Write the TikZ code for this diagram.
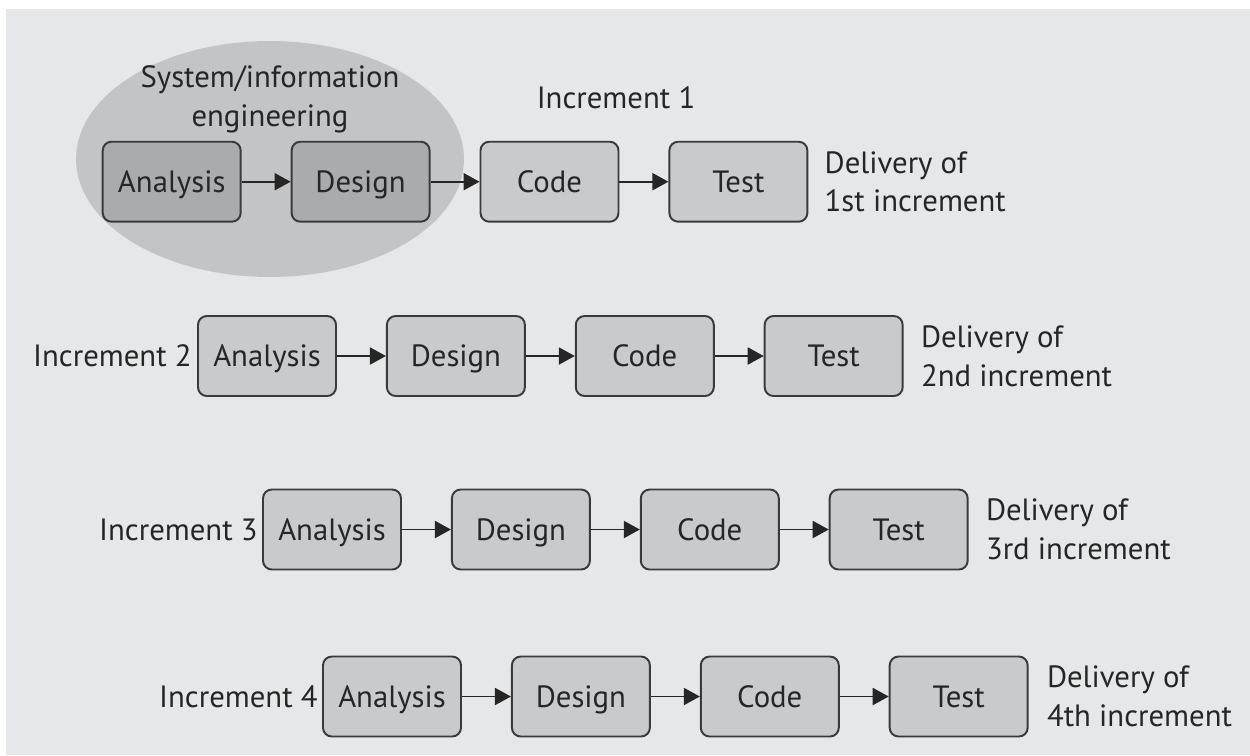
\documentclass[tikz,border=0pt]{standalone}
\usepackage{fontspec}
\setmainfont{PT Sans}
\usetikzlibrary{positioning, arrows.meta, shapes.geometric}
\definecolor{panel}{HTML}{E6E7E8}
\definecolor{blob}{HTML}{C3C4C6}
\definecolor{boxgray}{HTML}{C9CACC}
\definecolor{boxdark}{HTML}{A9ABAD}
\definecolor{edge}{HTML}{3A3A3A}
\definecolor{ink}{HTML}{262626}

\begin{document}
\begin{tikzpicture}[x=0.02cm, y=-0.02cm, >={Triangle[length=0.32cm, width=0.34cm]}, node distance=0.98cm,
    font=\fontsize{17.5}{22}\selectfont,
    phase/.style={draw=edge, fill=boxgray, rounded corners=5pt, line width=1.1pt, minimum width=2.76cm, minimum height=1.6cm, inner sep=0pt, text height=12.3pt, text depth=0pt, text=ink},
    early/.style={phase, fill=boxdark},
    tag/.style={inner sep=0pt, text=ink, align=left},
    flow/.style={->, line width=1.1pt, draw=ink}]
  \useasboundingbox (0,0) rectangle (1250,755);
  \fill[panel] (6,9) rectangle (1250,755);
  % system/information engineering
  \node[ellipse, fill=blob, minimum width=7.76cm, minimum height=4.72cm, inner sep=0pt] (sie) at (270,159) {};
  \node[tag, align=center] (sietext) at (270,99) {System/information\\engineering};
  % increment 1
  \node[early] (a1) at (171.7,181.7) {Analysis};
  \node[early, right=of a1] (d1) {Design};
  \node[phase, right=of d1] (c1) {Code};
  \node[phase, right=of c1] (t1) {Test};
  \node[tag] (inc1) at (616,98) {Increment 1};
  \node[tag, right=0.32cm of t1] (del1) {Delivery of\\1st increment};
  \draw[flow] (a1) -- (d1);
  \draw[flow] (d1) -- (c1);
  \draw[flow] (c1) -- (t1);
  % increment 2
  \node[phase] (a2) at (267,356) {Analysis};
  \node[phase, right=of a2] (d2) {Design};
  \node[phase, right=of d2] (c2) {Code};
  \node[phase, right=of c2] (t2) {Test};
  \node[tag, left=0.1cm of a2] (inc2) {Increment 2};
  \node[tag, right=0.34cm of t2] (del2) {Delivery of\\2nd increment};
  \draw[flow] (a2) -- (d2);
  \draw[flow] (d2) -- (c2);
  \draw[flow] (c2) -- (t2);
  % increment 3
  \node[phase] (a3) at (332,529.5) {Analysis};
  \node[phase, right=of a3] (d3) {Design};
  \node[phase, right=of d3] (c3) {Code};
  \node[phase, right=of c3] (t3) {Test};
  \node[tag, left=0.08cm of a3] (inc3) {Increment 3};
  \node[tag, right=0.34cm of t3] (del3) {Delivery of\\3rd increment};
  \draw[flow] (a3) -- (d3);
  \draw[flow] (d3) -- (c3);
  \draw[flow] (c3) -- (t3);
  % increment 4
  \node[phase] (a4) at (392,696.5) {Analysis};
  \node[phase, right=of a4] (d4) {Design};
  \node[phase, right=of d4] (c4) {Code};
  \node[phase, right=of c4] (t4) {Test};
  \node[tag, left=0.08cm of a4] (inc4) {Increment 4};
  \node[tag, right=0.36cm of t4] (del4) {Delivery of\\4th increment};
  \draw[flow] (a4) -- (d4);
  \draw[flow] (d4) -- (c4);
  \draw[flow] (c4) -- (t4);
\end{tikzpicture}
\end{document}
